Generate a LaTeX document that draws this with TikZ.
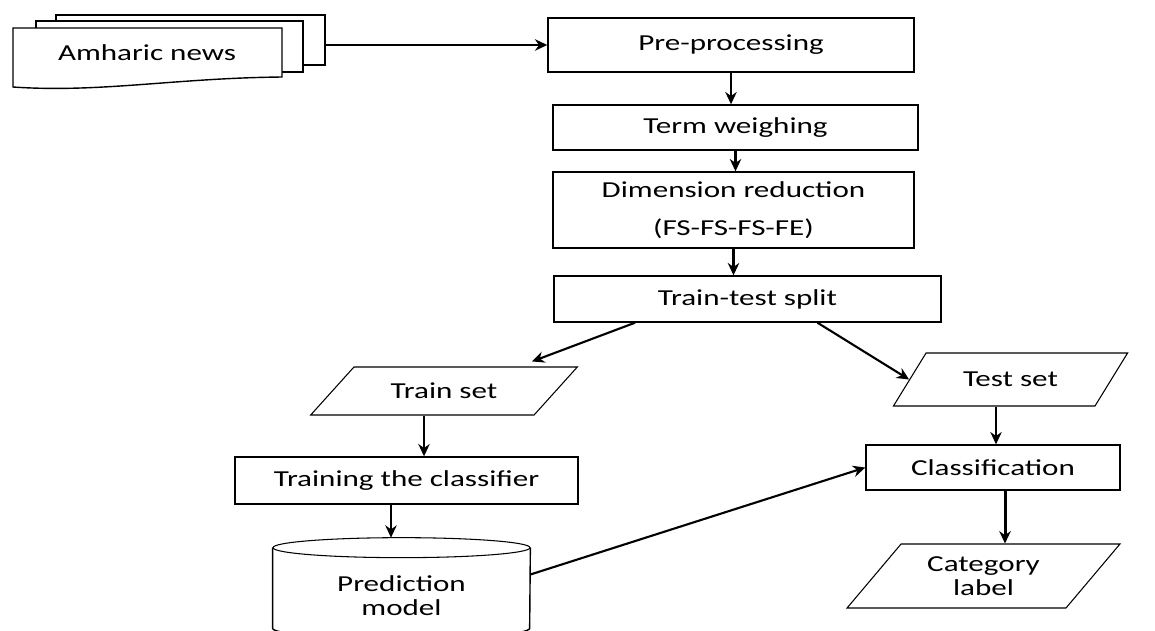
\documentclass[tikz,border=0pt]{standalone}
\usepackage{fontspec}
\setmainfont{Carlito}[FakeStretch=1.36]
\usetikzlibrary{arrows.meta, positioning, shapes.geometric}

\begin{document}
\begin{tikzpicture}[>={Stealth[length=7pt, width=6.5pt]},
    font=\fontsize{13}{14}\selectfont,
    box/.style={rectangle, draw, line width=0.8pt, fill=white, inner sep=2pt},
    page/.style={rectangle, draw, line width=0.8pt, fill=white},
    dataset/.style={trapezium, draw, line width=0.6pt, trapezium stretches=true,
                inner sep=2pt, align=center},
    arrow/.style={->, line width=1.2pt}]

    \useasboundingbox (0,0) rectangle (23.1,-12.6);

    % stack of documents
    \node[page, minimum width=5.38cm, minimum height=1.0cm] (page1) at (3.81,-0.80) {};
    \node[page, minimum width=5.34cm, minimum height=1.02cm] (page2) at (3.39,-0.93) {};
    \draw[fill=white, line width=0.8pt] (0.26,-1.74) -- (0.26,-0.56) -- (5.64,-0.56) -- (5.64,-1.54)
        .. controls (3.5,-1.56) and (2.0,-1.86) .. cycle;
    \node (news) at (2.94,-1.06) {Amharic news};

    % main chain
    \node[box, minimum width=7.32cm, minimum height=1.08cm] (pre) at (14.62,-0.90) {Pre-processing};
    \node[box, minimum width=7.30cm, minimum height=0.90cm] (term) at (14.71,-2.55) {Term weighing};
    \node[box, minimum width=7.22cm, minimum height=1.52cm, align=center] (dim) at (14.67,-4.20)
        {Dimension reduction\\[8pt](FS-FS-FS-FE)};
    \node[box, minimum width=7.74cm, minimum height=0.92cm] (split) at (14.95,-5.98) {Train-test split};

    % training branch
    \node[dataset, trapezium left angle=40, trapezium right angle=140,
          minimum width=5.36cm, minimum height=0.96cm] (train) at (8.88,-7.82) {Train set};
    \node[box, minimum width=6.86cm, minimum height=0.94cm] (trainclf) at (8.13,-9.61) {Training the classifier};
    \node[minimum width=5.14cm, minimum height=1.9cm, align=center] (model) at (8.03,-11.91)
        {Prediction\\model};
    \draw[line width=0.8pt] (model.north west) -- ([yshift=0.3cm]model.south west)
        arc[start angle=180, end angle=360, x radius=2.57cm, y radius=0.2cm] -- (model.north east);
    \draw[line width=0.6pt] (model.north) ellipse [x radius=2.57cm, y radius=0.2cm];
    \coordinate (modeltop) at ([yshift=0.2cm]model.north);

    % testing branch
    \node[dataset, trapezium left angle=48, trapezium right angle=132,
          minimum width=4.70cm, minimum height=1.06cm] (test) at (20.21,-7.59) {Test set};
    \node[box, minimum width=5.08cm, minimum height=0.90cm] (classify) at (19.86,-9.35) {Classification};
    \node[dataset, trapezium left angle=50, trapezium right angle=130,
          minimum width=5.46cm, minimum height=1.28cm] (category) at (19.67,-11.52) {Category\\label};

    \draw[arrow] (page1.east |- pre.west) -- (pre.west);
    \draw[arrow] (pre.south) -- (pre.south |- term.north);
    \draw[arrow] (term.south) -- (term.south |- dim.north);
    \draw[arrow] (dim.south) -- (dim.south |- split.north);
    \draw[arrow] ([xshift=-2.25cm]split.south) -- ([xshift=1.76cm, yshift=0.1cm]train.north);
    \draw[arrow] ([xshift=1.4cm]split.south) -- (test.west);
    \draw[arrow] ([xshift=-0.4cm]train.south) -- ([xshift=-0.4cm]train.south |- trainclf.north);
    \draw[arrow] ([xshift=-0.31cm]trainclf.south) -- ([xshift=-0.31cm]trainclf.south |- modeltop);
    \draw[arrow] ([yshift=0.42cm]model.east) -- (classify.west);
    \draw[arrow] ([xshift=-0.29cm]test.south) -- ([xshift=-0.29cm]test.south |- classify.north);
    \draw[arrow, line width=1.7pt] ([xshift=0.24cm]classify.south) -- ([xshift=0.24cm]classify.south |- category.north);
\end{tikzpicture}
\end{document}
